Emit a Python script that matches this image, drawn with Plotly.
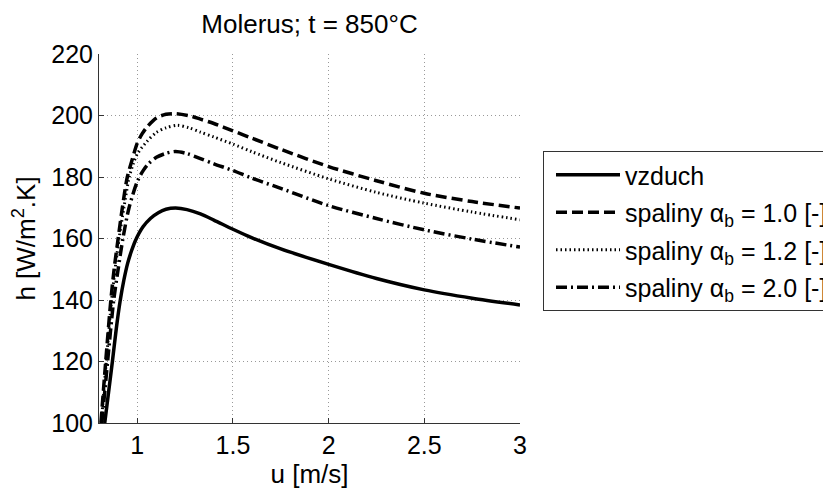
import plotly.graph_objects as go

# ---- data ----
u_vzduch = [0.83, 0.85, 0.87, 0.89, 0.91, 0.93, 0.95, 0.97, 0.99, 1.03, 1.07, 1.11, 1.15, 1.2, 1.26, 1.33, 1.4, 1.5, 1.6, 1.75, 2.0, 2.25, 2.5, 2.75, 3.0]
h_vzduch = [100, 110, 120, 130.5, 139.5, 146.5, 152, 156, 159.3, 163.8, 166.6, 168.4, 169.5, 169.9, 169.4, 168.0, 166.0, 163.0, 160.2, 156.6, 151.6, 147.0, 143.3, 140.6, 138.4]

u_a10 = [0.81, 0.835, 0.862, 0.879, 0.90, 0.922, 0.948, 0.975, 1.0, 1.025, 1.05, 1.1, 1.15, 1.2, 1.28, 1.33, 1.4, 1.5, 1.6, 1.75, 2.0, 2.25, 2.5, 2.75, 3.0]
h_a10 = [100, 120, 140, 150, 160, 170, 180, 186.0, 191.0, 194.0, 196.2, 199.2, 200.4, 200.6, 199.8, 198.8, 197.4, 195.0, 192.6, 189.0, 183.4, 178.8, 174.7, 172.0, 169.9]

u_a12 = [0.812, 0.838, 0.866, 0.884, 0.905, 0.93, 0.958, 0.98, 1.0, 1.05, 1.1, 1.15, 1.21, 1.27, 1.33, 1.4, 1.5, 1.6, 1.75, 2.0, 2.25, 2.5, 2.75, 3.0]
h_a12 = [100, 120, 140, 150, 160, 170, 180, 184.5, 187.5, 191.5, 194.5, 196.0, 196.8, 196.0, 194.6, 193.0, 190.7, 188.2, 184.7, 179.4, 175.0, 171.5, 168.6, 166.1]

u_a20 = [0.815, 0.845, 0.877, 0.90, 0.925, 0.957, 1.0, 1.03, 1.06, 1.1, 1.15, 1.2, 1.26, 1.33, 1.4, 1.5, 1.6, 1.75, 2.0, 2.25, 2.5, 2.75, 3.0]
h_a20 = [100, 120, 140, 150, 160, 170, 178.5, 182.0, 184.4, 186.4, 187.7, 188.3, 187.6, 186.0, 184.3, 182.1, 179.6, 176.3, 170.7, 166.5, 162.8, 159.8, 157.2]

series_names = [
    "vzduch",
    "spaliny \u03b1<sub>b</sub> = 1.0 [-]",
    "spaliny \u03b1<sub>b</sub> = 1.2 [-]",
    "spaliny \u03b1<sub>b</sub> = 2.0 [-]",
]
x_tickvals = [1, 1.5, 2, 2.5, 3]
x_ticktext = ["1", "1.5", "2", "2.5", "3"]
y_tickvals = [100, 120, 140, 160, 180, 200, 220]
y_ticktext = ["100", "120", "140", "160", "180", "200", "220"]

FONT = "Arial, Liberation Sans, sans-serif"

# the page body adds an 8 px offset; layout numbers below compensate for it
L, R, T, B = 91, 512, 46, 415   # plot area in figure pixels
W, H = 831, 489

fig = go.Figure()
styles = [
    dict(width=3.5, dash="solid"),
    dict(width=3.5, dash="11px,5px"),
    dict(width=3, dash="1.5px,3px"),
    dict(width=3.5, dash="11px,4px,2px,4px"),
]
data = [(u_vzduch, h_vzduch), (u_a10, h_a10), (u_a12, h_a12), (u_a20, h_a20)]
for i, ((u, h), name, st) in enumerate(zip(data, series_names, styles)):
    fig.add_trace(go.Scatter(
        x=u, y=h, mode="lines", name=name, legendgroup=f"g{i}",
        line=dict(color="black", shape="spline", smoothing=0.8, **st),
    ))

fig.update_layout(
    width=W, height=H,
    margin=dict(l=L, r=W - R, t=T, b=H - B, autoexpand=False),
    paper_bgcolor="white", plot_bgcolor="white",
    font=dict(family=FONT, size=25, color="black"),
    title=dict(text="Molerus; t = 850\u00b0C", x=(L + R) / 2 / W, xanchor="center",
               y=1 - 16 / H, yanchor="middle", font=dict(size=26, family=FONT, color="black")),
    showlegend=True,
    legend=dict(
        x=(535 - L) / (R - L), xanchor="left",
        y=(B - 143) / (B - T), yanchor="top",
        bgcolor="white", bordercolor="#333", borderwidth=1,
        font=dict(size=25, family=FONT, color="black"),
        itemwidth=64, indentation=7,
        tracegroupgap=2,
    ),
)
fig.update_xaxes(
    range=[0.8, 3], tickvals=x_tickvals, ticktext=x_ticktext,
    showline=True, linecolor="#333", linewidth=1,
    ticks="inside", ticklen=5, tickcolor="#333",
    showgrid=True, gridcolor="#999", gridwidth=1, griddash="1px,3px",
    zeroline=False,
    title=dict(text="u [m/s]", standoff=4, font=dict(size=26, family=FONT)),
)
fig.update_yaxes(
    range=[100, 220], tickvals=y_tickvals, ticktext=y_ticktext,
    showline=True, linecolor="#333", linewidth=1,
    ticks="inside", ticklen=5, tickcolor="#333",
    showgrid=True, gridcolor="#999", gridwidth=1, griddash="1px,3px",
    zeroline=False,
    title=dict(text="h [W/m<sup>2</sup>.K]", standoff=11, font=dict(size=26, family=FONT)),
)

fig.write_html("out.html")
